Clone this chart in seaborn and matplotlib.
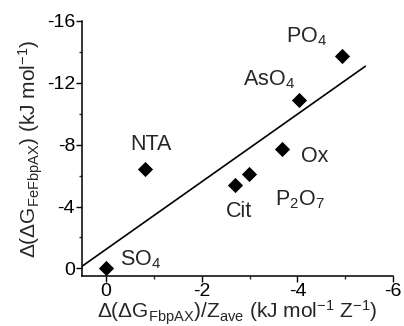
import numpy as np
import pandas as pd
import matplotlib
matplotlib.use("Agg")
import matplotlib.pyplot as plt
import seaborn as sns

names = ["SO$_4$", "NTA", "Cit", "P$_2$O$_7$", "Ox", "AsO$_4$", "PO$_4$"]
x_vals = [0.0, -0.82, -2.69, -2.99, -3.67, -4.03, -4.93]
y_vals = [0.0, -6.45, -5.42, -6.13, -7.74, -10.9, -13.74]
label_x = [-0.72, -0.94, -2.78, -4.05, -4.37, -3.4, -4.2]
label_y = [-0.55, -8.0, -3.68, -4.45, -7.23, -12.2, -15.0]
x_ticks = [0, -2, -4, -6]
y_ticks = [0, -4, -8, -12, -16]

sns.set_style("ticks")
plt.rcParams["font.family"] = ["Liberation Sans", "DejaVu Sans"]
plt.rcParams["mathtext.fontset"] = "custom"
plt.rcParams["mathtext.rm"] = "Liberation Sans"
plt.rcParams["mathtext.it"] = "Liberation Sans"
plt.rcParams["mathtext.default"] = "regular"

df = pd.DataFrame({"x": x_vals, "y": y_vals, "name": names})

fig = plt.figure(figsize=(4.04, 3.26), dpi=100)
ax = fig.add_axes([0.203, 0.153, 0.77, 0.783])

sns.scatterplot(data=df, x="x", y="y", marker="D", color="black", s=60,
                edgecolor="black", linewidth=0, ax=ax, zorder=3)

slope, intercept = np.polyfit(x_vals, y_vals, 1)
xl = np.array([0.5, -5.42])
ax.plot(xl, slope * xl + intercept, color="black", lw=1.2)

for n, lx, ly in zip(names, label_x, label_y):
    ax.text(lx, ly, n, ha="center", va="center", fontsize=15.5)

ax.set_xlim(0.5, -6)
ax.set_ylim(0.5, -16)
ax.set_xticks(x_ticks)
ax.set_xticklabels([str(t) for t in x_ticks])
ax.set_yticks(y_ticks)
ax.set_yticklabels([str(t) for t in y_ticks])
ax.set_xticks([-1, -3, -5], minor=True)
ax.set_yticks([-2, -6, -10, -14], minor=True)
ax.tick_params(which="major", direction="out", length=4, width=1, labelsize=14, colors="black")
ax.tick_params(which="minor", direction="out", length=2.5, width=1)
ax.tick_params(axis="x", pad=1)
ax.tick_params(axis="y", pad=1)
for s in ["top", "right"]:
    ax.spines[s].set_visible(False)
for s in ["left", "bottom"]:
    ax.spines[s].set_linewidth(1.1)
    ax.spines[s].set_color("black")

ax.set_xlabel(r"$\Delta(\Delta G_{FbpAX})/Z_{ave}$ (kJ mol$^{-1}$ Z$^{-1}$)", fontsize=15, labelpad=-1)
ax.set_ylabel(r"$\Delta(\Delta G_{FeFbpAX})$ (kJ mol$^{-1}$)", fontsize=15, labelpad=1)

fig.savefig("out.png", dpi=100)
